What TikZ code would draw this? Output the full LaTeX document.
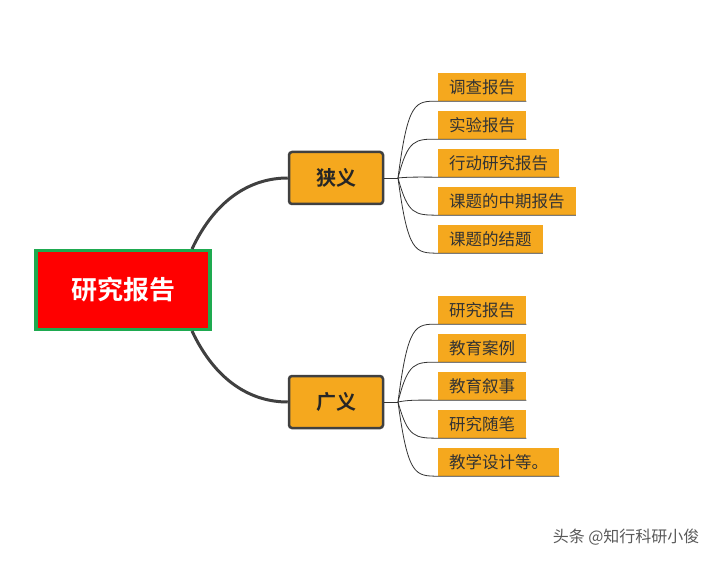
\documentclass[tikz,border=0pt]{standalone}
\usepackage{fontspec}
\newfontfamily\cjk{Noto Sans CJK SC}[BoldFont={Noto Sans CJK SC Bold}]
\usetikzlibrary{positioning}
\definecolor{rootc}{RGB}{255,0,0}
\definecolor{rootb}{RGB}{30,170,80}
\definecolor{topicc}{RGB}{245,168,30}
\definecolor{edgec}{RGB}{64,64,64}
\begin{document}
\begin{tikzpicture}[x=1bp, y=-1bp, font=\cjk]
	\tikzset{root/.style={draw=rootb, fill=rootc, line width=3.5bp, minimum width=174bp,
			minimum height=79bp, text=white, font=\cjk\bfseries\fontsize{26bp}{28bp}\selectfont},
		topic/.style={draw=edgec, fill=topicc, line width=2.5bp, rounded corners=3bp,
			minimum width=94bp, minimum height=52bp, text=black!85, font=\cjk\bfseries\fontsize{20bp}{22bp}\selectfont},
		leaf/.style={fill=topicc, anchor=west, inner xsep=11bp, minimum height=28bp,
			text=black!80, font=\cjk\fontsize{16.5bp}{18bp}\selectfont},
		branch/.style={draw=edgec, line width=3bp},
		twig/.style={draw=black!80, line width=0.8bp}}
	\useasboundingbox (0,0) rectangle (709,562);

	\node[root] (R) at (123,290) {研究报告};
	\node[topic] (T1) at (336,178) {狭义};
	\node[topic] (T2) at (336,402) {广义};

	% main branches
	\draw[branch] (192,249) .. controls (215,200) and (250,178) .. (T1.west);
	\draw[branch] (192,331) .. controls (215,380) and (250,402) .. (T2.west);

	\coordinate (F1) at (398,178);
	\coordinate (F2) at (398,402);
	\draw[twig] (T1.east) -- (F1);
	\draw[twig] (T2.east) -- (F2);

	% leaves
	\foreach \t [count=\i] in {调查报告,实验报告,行动研究报告,课题的中期报告,课题的结题} {
		\node[leaf] (A\i) at (438,{49+38*\i}) {\t};
		\draw[twig] (F1) .. controls (408,{63+38*\i}) and (415,{63+38*\i}) .. (A\i.south west) -- (A\i.south east);
	}
	\foreach \t [count=\i] in {研究报告,教育案例,教育叙事,研究随笔,教学设计等。} {
		\node[leaf] (B\i) at (438,{272+38*\i}) {\t};
		\draw[twig] (F2) .. controls (408,{286+38*\i}) and (415,{286+38*\i}) .. (B\i.south west) -- (B\i.south east);
	}

	\node[anchor=east, text=black!65, font=\cjk\fontsize{16bp}{18bp}\selectfont] (W) at (703,537) {头条 @知行科研小俊};
\end{tikzpicture}
\end{document}
